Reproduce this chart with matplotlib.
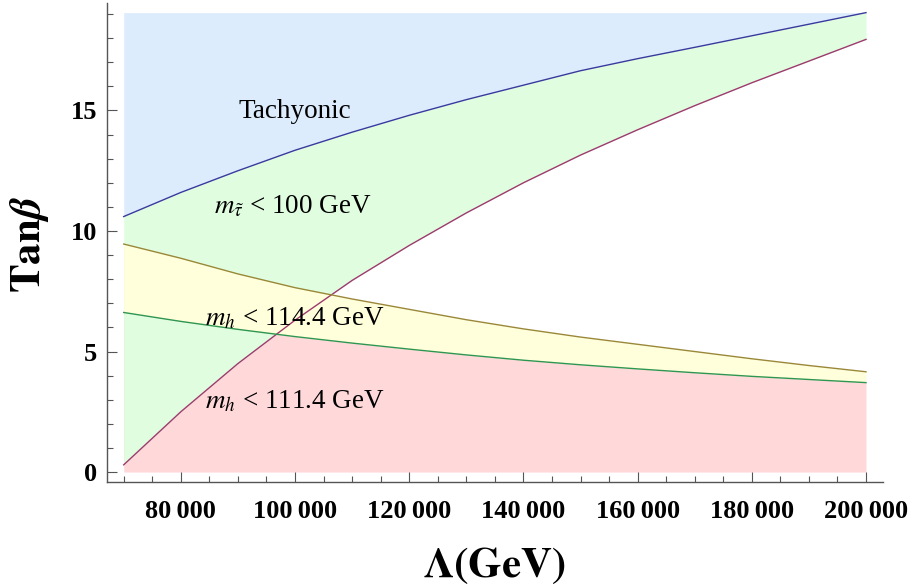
import numpy as np
import matplotlib
matplotlib.use("Agg")
import matplotlib.pyplot as plt
from matplotlib.ticker import MultipleLocator, FuncFormatter

# Lambda (GeV) sample points
lam = np.array([70000, 80000, 90000, 100000, 110000, 120000, 130000,
                140000, 150000, 160000, 170000, 180000, 190000, 200000])

# tan(beta) boundaries
tachyonic = np.array([10.6, 11.6, 12.5, 13.35, 14.1, 14.8, 15.45,
                      16.05, 16.65, 17.15, 17.62, 18.1, 18.58, 19.06])
stau = np.array([0.3, 2.5, 4.5, 6.3, 7.95, 9.4, 10.75,
                 12.0, 13.15, 14.2, 15.2, 16.15, 17.05, 17.95])
mh114 = np.array([9.46, 8.87, 8.22, 7.65, 7.18, 6.75, 6.32,
                  5.94, 5.6, 5.3, 5.0, 4.7, 4.42, 4.16])
mh111 = np.array([6.62, 6.25, 5.92, 5.62, 5.35, 5.1, 4.86,
                  4.64, 4.45, 4.28, 4.12, 3.97, 3.84, 3.71])
top = 19.06

plt.rcParams['font.family'] = ['Liberation Serif', 'DejaVu Serif']
plt.rcParams['mathtext.fontset'] = 'stix'

fig = plt.figure(figsize=(9.14, 5.88), dpi=100)
ax = fig.add_axes([0.1171, 0.1808, 0.849, 0.8141])

c_blue, c_green, c_yel, c_red = '#dcecfc', '#e0fde0', '#ffffdc', '#ffd8da'

ax.fill_between(lam, tachyonic, top, color=c_blue, lw=0)
ax.fill_between(lam, stau, tachyonic, color=c_green, lw=0)
ax.fill_between(lam, mh111, mh114, color=c_yel, lw=0)
ax.fill_between(lam, 0, mh111, color=c_red, lw=0)
ax.fill_between(lam, stau, mh111, where=stau < mh111, interpolate=True,
                color=c_green, lw=0)

ax.plot(lam, tachyonic, color='#3a3a9e', lw=1.0)
ax.plot(lam, stau, color='#9e3a6e', lw=1.0)
ax.plot(lam, mh114, color='#9a8838', lw=1.0)
ax.plot(lam, mh111, color='#2e9650', lw=1.0)

tfs = 19.5
ax.text(100000, 14.69, "Tachyonic", fontsize=tfs, ha='center', va='baseline')
ax.text(99700, 10.75, r"$m_{\tilde{\tau}}$ < 100 GeV", fontsize=tfs,
        ha='center', va='baseline')
ax.text(99900, 6.10, r"$m_h$ < 114.4 GeV", fontsize=tfs,
        ha='center', va='baseline')
ax.text(99900, 2.64, r"$m_h$ < 111.4 GeV", fontsize=tfs,
        ha='center', va='baseline')

ax.set_xlim(67080, 202980)
ax.set_ylim(-0.40, 19.46)

for s in ['top', 'right']:
    ax.spines[s].set_visible(False)
for s in ['left', 'bottom']:
    ax.spines[s].set_color('#555555')
    ax.spines[s].set_linewidth(1.0)

ax.xaxis.set_major_locator(MultipleLocator(20000))
ax.xaxis.set_minor_locator(MultipleLocator(5000))
ax.yaxis.set_major_locator(MultipleLocator(5))
ax.yaxis.set_minor_locator(MultipleLocator(1))
ax.xaxis.set_major_formatter(FuncFormatter(
    lambda v, p: f"{int(v) // 1000}\u2009000"))
ax.yaxis.set_major_formatter(FuncFormatter(lambda v, p: f"{int(v)}"))

ax.tick_params(which='both', direction='in', color='#555555', width=0.8)
ax.tick_params(which='major', length=7)
ax.tick_params(which='minor', length=4)
ax.tick_params(axis='x', which='major', pad=13, labelsize=19)
ax.tick_params(axis='y', which='major', pad=7, labelsize=19)
for lab in ax.get_xticklabels() + ax.get_yticklabels():
    lab.set_fontweight('bold')

fig.text(494 / 914, 1 - 566 / 588, r"$\mathbf{\Lambda(GeV)}$", fontsize=31,
         ha='center', va='center')
fig.text(30 / 914, 1 - 245 / 588, r"$\mathbf{Tan}\mathbfit{\beta}$",
         fontsize=31, ha='center', va='center', rotation=90)

fig.savefig("out.png", dpi=100)
